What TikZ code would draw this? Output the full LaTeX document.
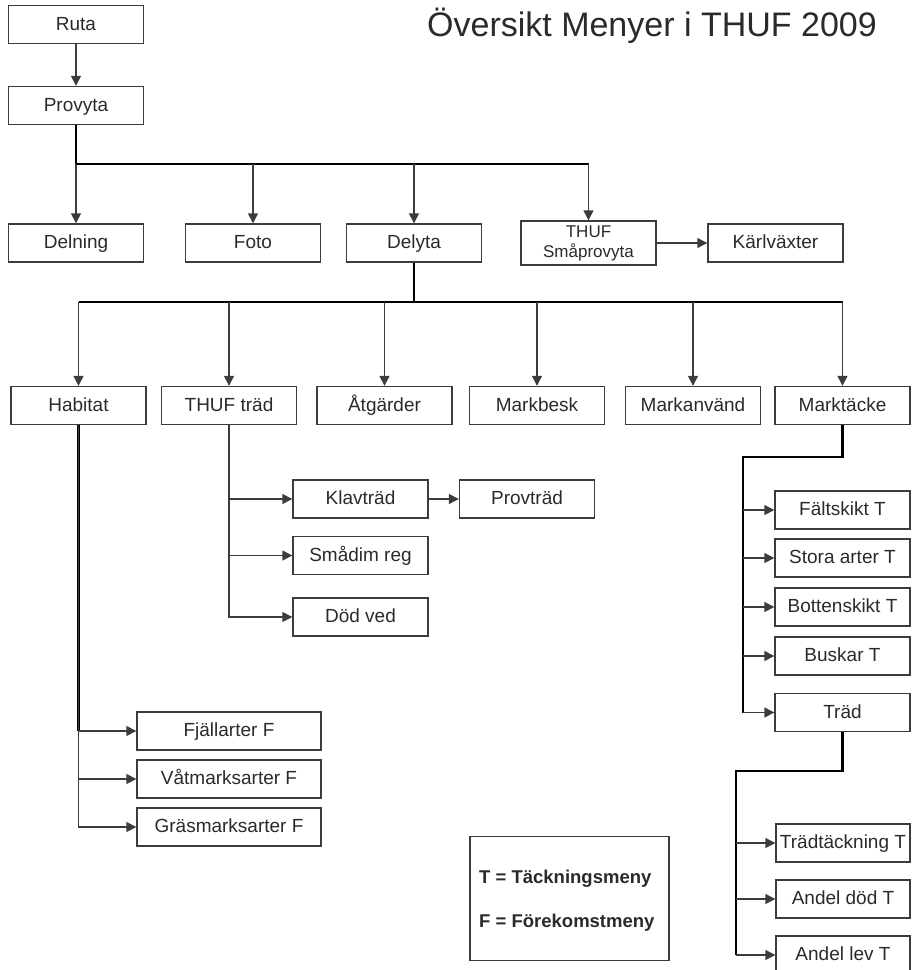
\documentclass[tikz,border=0pt]{standalone}
\usepackage{fontspec}
\setmainfont{Liberation Sans}
\usetikzlibrary{arrows.meta, positioning}
\definecolor{boxgray}{HTML}{3C3C3C}
\definecolor{txtgray}{HTML}{2A2A2A}

\begin{document}
\begin{tikzpicture}[x=1pt, y=-1pt,
    menu/.style={draw=boxgray, line width=1.4pt, minimum width=135pt, minimum height=38pt,
      inner sep=0pt, text height=14pt, text depth=2.4pt, text=txtgray,
      font=\fontsize{19}{22}\selectfont},
    wide/.style={menu, minimum width=184pt},
    arr/.style={draw=boxgray, line width=1.4pt, -{Triangle[length=10pt, width=10pt]}},
    trunk/.style={draw=black, line width=2.4pt},
    legtext/.style={font=\bfseries\fontsize{18.5}{22}\selectfont, text=txtgray, inner sep=0pt}]
  \useasboundingbox (0,0) rectangle (916,970);

  % title
  \node[anchor=base, font=\fontsize{34}{38}\selectfont, text=txtgray] (title) at (652,36)
    {Översikt Menyer i THUF 2009};

  % top levels
  \node[menu] (ruta) at (76,24.5) {Ruta};
  \node[menu] (provyta) at (76,105.5) {Provyta};
  \node[menu] (delning) at (76,243) {Delning};
  \node[menu] (foto) at (253,243) {Foto};
  \node[menu] (delyta) at (414,243) {Delyta};
  \node[menu, minimum height=44pt, align=center, text height=, text depth=,
    font=\fontsize{17}{20}\selectfont] (smaprov) at (588.5,243) {THUF\\Småprovyta};
  \node[menu] (karl) at (775.5,243) {Kärlväxter};

  \draw[arr] (ruta) -- (provyta);
  \coordinate (bus1) at (76,164);
  \draw[trunk] (provyta) -- (bus1) -- (bus1 -| smaprov);
  \foreach \n in {delning, foto, delyta, smaprov}
    \draw[arr] (bus1 -| \n) -- (\n);
  \draw[arr] (smaprov) -- (karl);

  % delyta menus
  \node[menu] (habitat) at (78.5,405.5) {Habitat};
  \node[menu] (thuftrad) at (229,405.5) {THUF träd};
  \node[menu] (atgarder) at (384.5,405.5) {Åtgärder};
  \node[menu] (markbesk) at (537,405.5) {Markbesk};
  \node[menu] (markanv) at (693,405.5) {Markanvänd};
  \node[menu] (marktacke) at (842.5,405.5) {Marktäcke};

  \coordinate (bus2) at (414,302);
  \draw[trunk] (delyta) -- (bus2);
  \draw[trunk] (bus2 -| habitat) -- (bus2 -| marktacke);
  \foreach \n in {habitat, thuftrad, atgarder, markbesk, markanv, marktacke}
    \draw[arr] (bus2 -| \n) -- (\n);

  % thuf trad
  \node[menu] (klavtrad) at (360.5,499) {Klavträd};
  \node[menu] (provtrad) at (527,499) {Provträd};
  \node[menu] (smadim) at (360.5,555.5) {Smådim reg};
  \node[menu] (dodved) at (360.5,617) {Död ved};
  \foreach \n in {klavtrad, smadim, dodved}
    \draw[arr] (thuftrad) |- (\n);
  \draw[arr] (klavtrad) -- (provtrad);

  % habitat
  \node[wide] (fjall) at (229,731) {Fjällarter F};
  \node[wide] (vatmark) at (229,779) {Våtmarksarter F};
  \node[wide] (grasmark) at (229,827) {Gräsmarksarter F};
  \draw[trunk] (habitat) -- (habitat |- fjall);
  \foreach \n in {fjall, vatmark, grasmark}
    \draw[arr] (habitat) |- (\n);

  % marktacke
  \node[menu] (faltskikt) at (842.5,510) {Fältskikt T};
  \node[menu] (stora) at (842.5,558) {Stora arter T};
  \node[menu] (botten) at (842.5,607) {Bottenskikt T};
  \node[menu] (buskar) at (842.5,656) {Buskar T};
  \node[menu] (trad) at (842.5,712.5) {Träd};
  \coordinate (mt1) at (743,457);
  \draw[trunk] (marktacke) |- (mt1) -- (mt1 |- trad);
  \foreach \n in {faltskikt, stora, botten, buskar, trad}
    \draw[arr] (mt1 |- \n) -- (\n);

  % trad
  \node[menu, minimum width=134pt] (tradtack) at (843,843) {Trädtäckning T};
  \node[menu, minimum width=134pt] (andeldod) at (843,899) {Andel död T};
  \node[menu, minimum width=134pt] (andellev) at (843,955) {Andel lev T};
  \coordinate (tr1) at (736,771);
  \draw[trunk] (trad) |- (tr1) -- (tr1 |- andellev);
  \foreach \n in {tradtack, andeldod, andellev}
    \draw[arr] (tr1 |- \n) -- (\n);

  % legend
  \node[draw=boxgray, line width=1.4pt, minimum width=199pt, minimum height=124pt]
    (legend) at (569.5,898.5) {};
  \node[legtext, anchor=base west] (legt) at (479,883) {T = Täckningsmeny};
  \node[legtext, anchor=base west] (legf) at (479,927) {F = Förekomstmeny};
\end{tikzpicture}
\end{document}
